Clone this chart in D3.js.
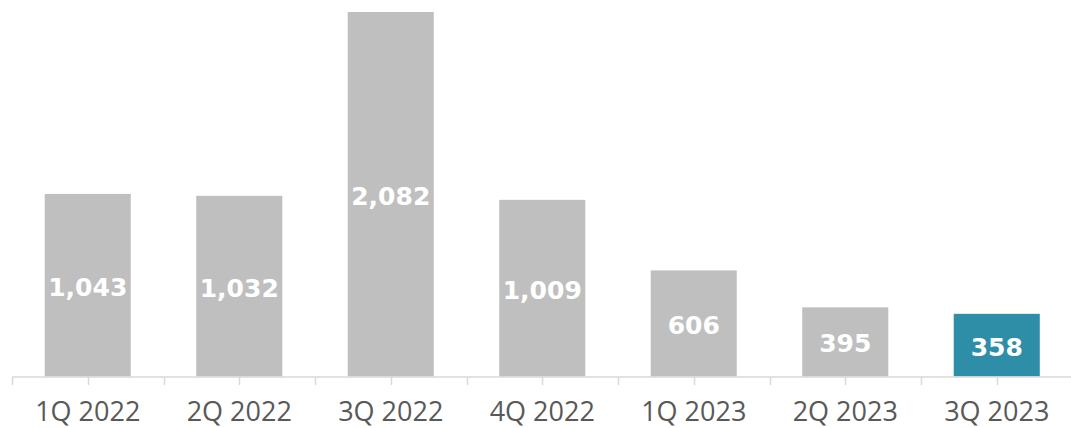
<!DOCTYPE html>
<html>
<head>
    <meta charset="utf-8">
    <script src="https://d3js.org/d3.v7.min.js"></script>
    <style>
        body { margin: 0; background: #ffffff; }
        .axis-label { font-family: "Open Sans", sans-serif; font-size: 27px; fill: #595959; }
        .bar-label { font-family: "DejaVu Sans", sans-serif; font-weight: bold; font-size: 25px; fill: #ffffff; }
    </style>
</head>
<body>
    <script>
        const quarters = ["1Q 2022", "2Q 2022", "3Q 2022", "4Q 2022", "1Q 2023", "2Q 2023", "3Q 2023"];
        const values = [1043, 1032, 2082, 1009, 606, 395, 358];

        var width = 1071;
        var height = 428;
        const grey = "#bfbfbf";
        const teal = "#2e8ea8";

        var svg = d3.select("body")
            .append("svg")
            .attr("width", width)
            .attr("height", height);

        var x = d3.scaleBand()
            .domain(quarters)
            .range([12, 1072.5])
            .paddingInner(0.432)
            .paddingOuter(0.216);

        var y = d3.scaleLinear()
            .domain([0, 2082])
            .range([376.5, 12]);

        // bars
        svg.selectAll("rect.bar")
            .data(values)
            .enter()
            .append("rect")
            .attr("class", "bar")
            .attr("x", (d, i) => x(quarters[i]))
            .attr("width", x.bandwidth())
            .attr("y", d => y(d))
            .attr("height", d => y(0) - y(d))
            .attr("fill", (d, i) => i == values.length - 1 ? teal : grey);

        // value labels in middle of bars
        svg.selectAll("text.bar-label")
            .data(values)
            .enter()
            .append("text")
            .attr("class", "bar-label")
            .attr("x", (d, i) => x(quarters[i]) + x.bandwidth() / 2)
            .attr("y", d => (y(d) + y(0)) / 2 + 2)
            .attr("text-anchor", "middle")
            .attr("dominant-baseline", "central")
            .text(d => d3.format(",")(d));

        // axis line + ticks at band edges and centres
        var step = x.step();
        var axisY = 377;
        svg.append("line")
            .attr("x1", 12).attr("x2", width)
            .attr("y1", axisY).attr("y2", axisY)
            .attr("stroke", "#d9d9d9").attr("stroke-width", 1.5);

        var tickXs = [];
        quarters.forEach(function (q, i) {
            tickXs.push(12 + i * step);
            tickXs.push(x(q) + x.bandwidth() / 2);
        });
        tickXs.push(12 + quarters.length * step);

        svg.selectAll("line.tick")
            .data(tickXs)
            .enter()
            .append("line")
            .attr("class", "tick")
            .attr("x1", d => Math.round(d) + 0.5).attr("x2", d => Math.round(d) + 0.5)
            .attr("y1", axisY).attr("y2", axisY + 8)
            .attr("stroke", "#d9d9d9").attr("stroke-width", 1.5);

        svg.selectAll("text.axis-label")
            .data(quarters)
            .enter()
            .append("text")
            .attr("class", "axis-label")
            .attr("x", d => x(d) + x.bandwidth() / 2)
            .attr("y", 421)
            .attr("text-anchor", "middle")
            .text(d => d);
    </script>
</body>
</html>
